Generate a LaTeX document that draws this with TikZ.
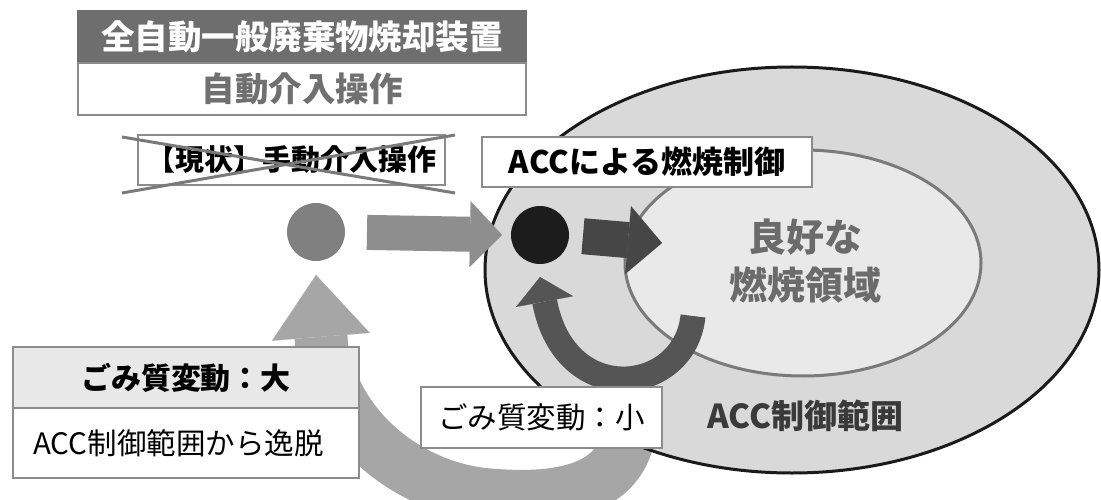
\documentclass[tikz,border=0pt]{standalone}
\usepackage{fontspec}
\newfontfamily\jp{Noto Sans CJK JP}
\usetikzlibrary{arrows.meta}
\definecolor{titlegray}{HTML}{6E6E6E}
\definecolor{boxgray}{HTML}{8C8C8C}
\definecolor{textgray}{HTML}{707070}
\definecolor{crossgray}{HTML}{7A7A7A}
\definecolor{outerfill}{HTML}{D9D9D9}
\definecolor{outerline}{HTML}{1A1A1A}
\definecolor{innerfill}{HTML}{E9E9E9}
\definecolor{innerline}{HTML}{7A7A7A}
\definecolor{bigarrow}{HTML}{A6A6A6}
\definecolor{smallarrow}{HTML}{555555}
\definecolor{grayarrow}{HTML}{8E8E8E}
\definecolor{darkarrow}{HTML}{464646}
\definecolor{graydot}{HTML}{808080}
\definecolor{blackdot}{HTML}{1C1C1C}
\definecolor{headfill}{HTML}{E8E8E8}
\definecolor{goodtext}{HTML}{6B6B6B}
\definecolor{rangetext}{HTML}{3A3A3A}
\newcommand\jpsize[1]{\fontsize{#1}{#1}\selectfont}
\begin{document}
\begin{tikzpicture}[x=1pt,y=-1pt,
  frame/.style={draw=boxgray, line width=1.5pt, fill=white, inner sep=0pt, outer sep=0pt},
  lbl/.style={inner sep=0pt, outer sep=0pt},
  dot/.style={circle, inner sep=0pt, outer sep=0pt, minimum size=58pt},
  crossline/.style={draw=crossgray, line width=3pt},
  blockarrow/.style={line cap=butt, line join=round}
]
\clip (0,0) rectangle (1101,500);
\fill[white] (0,0) rectangle (1101,500);

% big curved arrow (behind everything)
\node[dot, fill=graydot] (gdot) at (316,232) {};
\coordinate (bigtail) at (630,425);
\coordinate (bigmid) at (490,495);
\coordinate (bigbend) at (322,350);
\draw[blockarrow, draw=bigarrow, line width=53pt,
  -{Triangle[length=62pt,width=98pt,line width=0.1pt,fill=bigarrow]}]
  (bigtail) .. controls (625,495) and (550,500) .. (bigmid)
  .. controls (420,490) and (340,440) .. (bigbend)
  -- ([yshift=-14pt]gdot.south);

% ellipses
\draw[fill=outerfill, draw=outerline, line width=3pt] (792,270) ellipse [x radius=307, y radius=203];
\draw[fill=innerfill, draw=innerline, line width=3pt] (803,263) ellipse [x radius=178, y radius=113];

\node[lbl, text=goodtext, font=\jp\bfseries\jpsize{38}] (good1) at (805,237) {良好な};
\node[lbl, text=goodtext, font=\jp\bfseries\jpsize{38}] (good2) at (805,285) {燃焼領域};
\node[lbl, text=rangetext, font=\jp\bfseries\jpsize{33}] (range) at (805,416) {ACC制御範囲};

% dots and straight arrows
\node[dot, fill=blackdot] (bdot) at (540,235) {};
\coordinate (goodtip) at (662,243);
\draw[blockarrow, draw=grayarrow, line width=35pt,
  -{Triangle[length=32pt,width=66pt,line width=0.1pt,fill=grayarrow]},
  shorten <=22pt, shorten >=9pt] (gdot.east) -- (bdot.west);
\draw[blockarrow, draw=darkarrow, line width=36pt,
  -{Triangle[length=34pt,width=68pt,line width=0.1pt,fill=darkarrow]},
  shorten <=14pt] (bdot.east) -- (goodtip);

% small feedback arrow
\coordinate (smalltail) at (693,316);
\draw[blockarrow, draw=smallarrow, line width=25pt,
  -{Triangle[length=25pt,width=58pt,line width=0.1pt,fill=smallarrow]}]
  (smalltail) .. controls (685,395) and (565,410) .. ([yshift=-13pt]bdot.south);

% title boxes
\node[frame, fill=titlegray, draw=titlegray, minimum width=448pt, minimum height=52pt,
  text=white, font=\jp\bfseries\jpsize{33.5}] (title) at (302,37) {全自動一般廃棄物焼却装置};
\node[frame, minimum width=448pt, minimum height=52pt,
  text=textgray, font=\jp\bfseries\jpsize{33.5}] (auto) at (302,89) {自動介入操作};

% crossed-out box
\node[frame, minimum width=307pt, minimum height=50pt,
  text=black, font=\jp\bfseries\jpsize{29}] (manual) at (291.5,160) {【現状】手動介入操作};
\coordinate (c1) at (122,137);
\coordinate (c2) at (455,193);
\coordinate (c3) at (122,193);
\coordinate (c4) at (455,135);
\draw[crossline] (c1) -- (c2);
\draw[crossline] (c3) -- (c4);

% ACC box
\node[frame, minimum width=330pt, minimum height=50pt,
  text=black, font=\jp\bfseries\jpsize{31}] (acc) at (647,162) {ACCによる燃焼制御};

% big variation box
\node[frame, fill=headfill, minimum width=346pt, minimum height=61pt,
  text=black, font=\jp\bfseries\jpsize{30}] (bighead) at (186,377.5) {ごみ質変動：大};
\node[frame, minimum width=346pt, minimum height=70pt] (bigbody) at (186,443) {};
\node[lbl, text=black, font=\jp\jpsize{29.5}] (bigtext) at (178.5,443) {ACC制御範囲から逸脱};

% small variation box
\node[frame, minimum width=241pt, minimum height=61pt,
  text=black, font=\jp\jpsize{29.5}] (smallbox) at (541.5,417.5) {ごみ質変動：小};
\end{tikzpicture}
\end{document}
